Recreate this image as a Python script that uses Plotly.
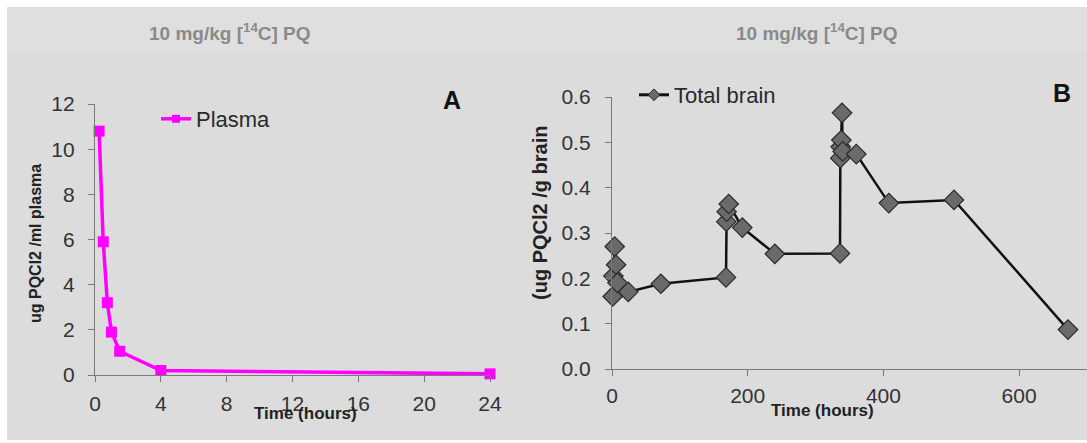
import plotly.graph_objects as go

# Plasma concentration after 10 mg/kg [14C] PQ
plasma_time = [0.25, 0.5, 0.75, 1.0, 1.5, 4.0, 24.0]
plasma_conc = [10.8, 5.9, 3.2, 1.9, 1.05, 0.2, 0.05]

# Total brain concentration
brain_time = [1, 2, 4, 6, 8, 24, 72, 168, 168.5, 169, 172, 192, 240,
              336, 336.5, 337, 338, 339, 340, 360, 408, 504, 672]
brain_conc = [0.16, 0.205, 0.27, 0.23, 0.19, 0.17, 0.188, 0.202, 0.325, 0.347,
              0.364, 0.312, 0.254, 0.255, 0.465, 0.49, 0.505, 0.565, 0.48,
              0.474, 0.366, 0.373, 0.087]

plasma_yticks = [0, 2, 4, 6, 8, 10, 12]
plasma_xticks = [0, 4, 8, 12, 16, 20, 24]
brain_yticks = [0.0, 0.1, 0.2, 0.3, 0.4, 0.5, 0.6]
brain_xticks = [0, 200, 400, 600]

W, H = 1087, 443
BG = "#dcdcdc"
MAGENTA = "#ff00ff"
FONT = "Liberation Sans, Arial, sans-serif"
TICK_FONT = dict(family=FONT, size=21, color="#333333")


def px(x):
    return x / W


def py(y):
    return 1 - y / H


fig = go.Figure()

fig.add_trace(go.Scatter(
    x=plasma_time, y=plasma_conc, mode="lines+markers",
    line=dict(color=MAGENTA, width=3.5),
    marker=dict(symbol="square", size=11, color=MAGENTA),
    cliponaxis=False, showlegend=False, xaxis="x", yaxis="y"))
fig.add_trace(go.Scatter(
    x=[None], y=[None], mode="lines+markers", name="Plasma",
    line=dict(color=MAGENTA, width=3.5),
    marker=dict(symbol="square", size=8, color=MAGENTA),
    legend="legend", xaxis="x", yaxis="y"))

fig.add_trace(go.Scatter(
    x=brain_time, y=brain_conc, mode="lines+markers",
    line=dict(color="#111111", width=2.5),
    marker=dict(symbol="diamond", size=15, color="#6a6a6a",
                line=dict(color="#2a2a2a", width=1.2)),
    cliponaxis=False, showlegend=False, xaxis="x2", yaxis="y2"))
fig.add_trace(go.Scatter(
    x=[None], y=[None], mode="lines+markers", name="Total brain",
    line=dict(color="#111111", width=3),
    marker=dict(symbol="diamond", size=9, color="#6a6a6a",
                line=dict(color="#2a2a2a", width=1)),
    legend="legend2", xaxis="x2", yaxis="y2"))

axis_common = dict(
    showgrid=False, zeroline=False, showline=True, linecolor="#7a7a7a",
    linewidth=1.3, ticks="outside", tickcolor="#7a7a7a", ticklen=6,
    tickwidth=1.2, tickfont=TICK_FONT, fixedrange=True, automargin=False)

legend_font = dict(family=FONT, size=22, color="#2a2a2a")

fig.update_layout(
    template="none",
    width=W, height=H, margin=dict(l=0, r=0, t=0, b=0, pad=0, autoexpand=False),
    paper_bgcolor="white", plot_bgcolor=BG,
    font=dict(family=FONT),
    xaxis=dict(domain=[px(95), px(490)], range=[0, 24], tickvals=plasma_xticks,
               anchor="y", ticklabelstandoff=4, **axis_common),
    yaxis=dict(domain=[py(375), py(104)], range=[0, 12], tickvals=plasma_yticks,
               anchor="x", ticklabelstandoff=9, **axis_common),
    xaxis2=dict(domain=[px(612), 1.0], range=[0, 700], tickvals=brain_xticks,
                anchor="y2", ticklabelstandoff=2, **axis_common),
    yaxis2=dict(domain=[py(369), py(97)], range=[0, 0.6], tickvals=brain_yticks,
                tickformat=".1f", anchor="x2", ticklabelstandoff=10, **axis_common),
    legend=dict(x=px(156), y=py(119), xanchor="left", yanchor="middle",
                bgcolor="rgba(0,0,0,0)", font=legend_font,
                itemwidth=30, tracegroupgap=0),
    legend2=dict(x=px(634), y=py(95), xanchor="left", yanchor="middle",
                 bgcolor="rgba(0,0,0,0)", font=legend_font,
                 itemwidth=30, tracegroupgap=0),
)

# Gray panel background with a thin white frame
fig.add_shape(type="rect", xref="paper", yref="paper", x0=px(7), x1=1, y0=py(440), y1=py(7),
              fillcolor=BG, line_width=0, layer="below")
fig.add_shape(type="rect", xref="paper", yref="paper", x0=px(7), x1=1, y0=py(52), y1=py(7),
              fillcolor="#dfdfdf", line_width=0, layer="below")


def add_text(x, y, text, font, angle=0):
    fig.add_annotation(x=px(x), y=py(y), xref="paper", yref="paper", text=text,
                       textangle=angle, showarrow=False, font=font,
                       xanchor="center", yanchor="middle")


title_font = dict(family=FONT, size=19, color="#8a8a8a")
for cx in (230, 817):
    add_text(cx, 32, "<b>10 mg/kg [<sup>14</sup>C] PQ</b>", title_font)

label_font = dict(family=FONT, size=25, color="#111111")
add_text(452, 100, "<b>A</b>", label_font)
add_text(1062, 93, "<b>B</b>", label_font)

axis_title_font = dict(family=FONT, size=17, color="#222222")
add_text(305, 413, "<b>Time (hours)</b>", axis_title_font)
add_text(822, 410, "<b>Time (hours)</b>", axis_title_font)
add_text(35, 244, "<b>ug PQCl2 /ml plasma</b>", dict(family=FONT, size=16, color="#222222"), -90)
add_text(540, 213, "<b>(ug PQCl2 /g brain</b>", dict(family=FONT, size=20, color="#222222"), -90)

fig.write_html("out.html", post_script="document.body.style.margin='0px';")
